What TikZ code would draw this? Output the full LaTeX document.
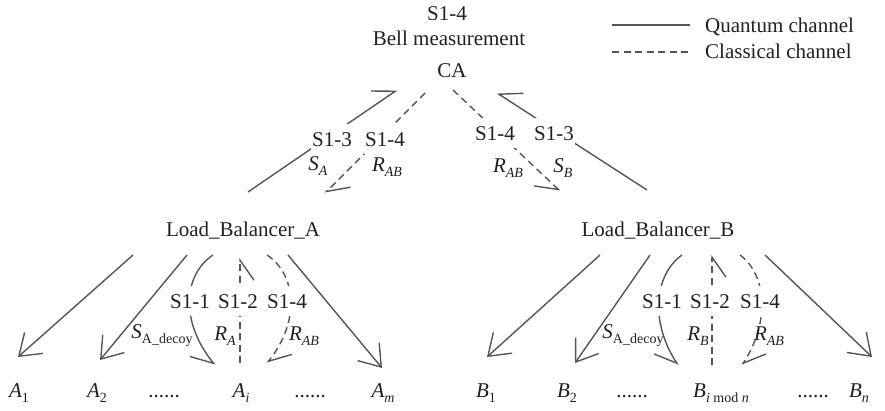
\documentclass[tikz,border=0pt]{standalone}
\usepackage{fontspec}
\setmainfont{Liberation Serif}
\usetikzlibrary{arrows.meta}
\definecolor{ln}{HTML}{555555}
\definecolor{tx}{HTML}{231F20}
\newcommand\sbx[1]{\raisebox{-0.28em}{\fontsize{14}{15}\selectfont #1}}
\begin{document}
\begin{tikzpicture}[x=1pt,y=-1pt,
  every node/.style={text=tx, font=\fontsize{21}{25}\selectfont, inner sep=0pt, anchor=base},
  lab/.style={fill=white, inner xsep=1pt, inner ysep=8pt},
  qline/.style={draw=ln, line width=1.4pt},
  cline/.style={draw=ln, line width=1.4pt, dash pattern=on 7pt off 4.5pt},
  tipv/.style={-{Straight Barb[length=20pt,width=28pt]}},
  tipl/.style={-{Straight Barb[length=20pt,width=28pt,harpoon]}},
  tipr/.style={-{Straight Barb[length=20pt,width=28pt,harpoon,swap]}},
]
\useasboundingbox (0,0) rectangle (885,410);

% top texts
\node (top) at (447,20) {S1-4};
\node (bell) at (449,45) {Bell measurement};
\node (CA) at (452,77) {CA};

% legend
\coordinate (lq1) at (612,25); \coordinate (lq2) at (690,25);
\coordinate (lc1) at (612,52); \coordinate (lc2) at (690,52);
\draw[qline] (lq1) -- (lq2);
\draw[cline] (lc1) -- (lc2);
\node[anchor=base west] (lqt) at (705,32) {Quantum channel};
\node[anchor=base west] (lct) at (705,58) {Classical channel};

% load balancers
\node (LBA) at (243,236) {Load\_Balancer\_A};
\node (LBB) at (658,236) {Load\_Balancer\_B};

% bottom nodes
\node (A1) at (19,397) {\textit{A}\sbx{1}};
\node (A2) at (97,397) {\textit{A}\sbx{2}};
\node (dA1) at (164,397) {......};
\node (Ai) at (241,397) {\textit{A}\sbx{\textit{i}}};
\node (dA2) at (310,397) {......};
\node (Am) at (383,397) {\textit{A}\sbx{\textit{m}}};
\node (B1) at (486,397) {\textit{B}\sbx{1}};
\node (B2) at (567,397) {\textit{B}\sbx{2}};
\node (dB1) at (632,397) {......};
\node (Bi) at (721,397) {\textit{B}\sbx{\textit{i} mod \textit{n}}};
\node (dB2) at (813,397) {......};
\node (Bn) at (859,397) {\textit{B}\sbx{\textit{n}}};

% connector end points
\coordinate (caSL) at (397,90);
\coordinate (caDL) at (425,93);
\coordinate (caDR) at (453,90);
\coordinate (caSR) at (497,93);
\coordinate (laS) at (248,192);
\coordinate (laD) at (325,193);
\coordinate (lbD) at (560,191);
\coordinate (lbS) at (647,190);

\coordinate (la1) at (133,255); \coordinate (a1t) at (18,357);
\coordinate (la2) at (187,255); \coordinate (a2t) at (100,360);
\coordinate (la3) at (213,255); \coordinate (ait1) at (215,365);
\coordinate (ait2) at (240,363); \coordinate (la4) at (240,258);
\coordinate (la5) at (267,255); \coordinate (ait3) at (267,363);
\coordinate (la6) at (288,255); \coordinate (amt) at (382,368);

\coordinate (lb1) at (600,255); \coordinate (b1t) at (487,357);
\coordinate (lb2) at (650,255); \coordinate (b2t) at (575,363);
\coordinate (lb3) at (682,255); \coordinate (bit1) at (678,365);
\coordinate (bit2) at (712,365); \coordinate (lb4) at (712,255);
\coordinate (lb5) at (740,255); \coordinate (bit3) at (742,365);
\coordinate (lb6) at (765,255); \coordinate (bnt) at (872,357);

% upper connectors
\draw[qline,tipl] (laS) -- (caSL);
\draw[cline,tipl] (caDL) -- (laD);
\draw[cline,tipr] (caDR) -- (lbD);
\draw[qline,tipr] (lbS) -- (caSR);

% lower connectors A
\draw[qline,tipv] (la1) -- (a1t);
\draw[qline,tipv] (la2) -- (a2t);
\draw[qline,tipr] (la3) .. controls (183,275) and (180,322) .. (ait1);
\draw[cline,tipr] (ait2) -- (la4);
\draw[cline,tipl] (la5) .. controls (297,275) and (300,322) .. (ait3);
\draw[qline,tipv] (la6) -- (amt);

% lower connectors B
\draw[qline,tipv] (lb1) -- (b1t);
\draw[qline,tipv] (lb2) -- (b2t);
\draw[qline,tipr] (lb3) .. controls (654,275) and (650,322) .. (bit1);
\draw[cline,tipr] (bit2) -- (lb4);
\draw[cline,tipl] (lb5) .. controls (767,275) and (770,322) .. (bit3);
\draw[qline,tipv] (lb6) -- (bnt);

% upper labels
\node[lab] (s13L) at (332,146) {S1-3};
\node[lab] (s14L) at (385,146) {S1-4};
\node (sA) at (318,170) {\textit{S}\sbx{\textit{A}}};
\node (rABL) at (387,171) {\textit{R}\sbx{\textit{AB}}};
\node[lab] (s14R) at (495,140) {S1-4};
\node[lab] (s13R) at (554,140) {S1-3};
\node (rABR) at (508,172) {\textit{R}\sbx{\textit{AB}}};
\node (sB) at (563,172) {\textit{S}\sbx{\textit{B}}};

% lower labels A
\node[lab] (a11) at (190,308) {S1-1};
\node[lab] (a12) at (238,308) {S1-2};
\node[lab] (a14) at (287,308) {S1-4};
\node (sAd) at (162,338) {\textit{S}\sbx{A\_decoy}};
\node (rA) at (225,340) {\textit{R}\sbx{\textit{A}}};
\node (rABa) at (304,340) {\textit{R}\sbx{\textit{AB}}};

% lower labels B
\node[lab] (b11) at (662,308) {S1-1};
\node[lab] (b12) at (710,308) {S1-2};
\node[lab] (b14) at (760,308) {S1-4};
\node (sAdB) at (633,338) {\textit{S}\sbx{A\_decoy}};
\node (rB) at (698,340) {\textit{R}\sbx{\textit{B}}};
\node (rABb) at (769,340) {\textit{R}\sbx{\textit{AB}}};
\end{tikzpicture}
\end{document}
